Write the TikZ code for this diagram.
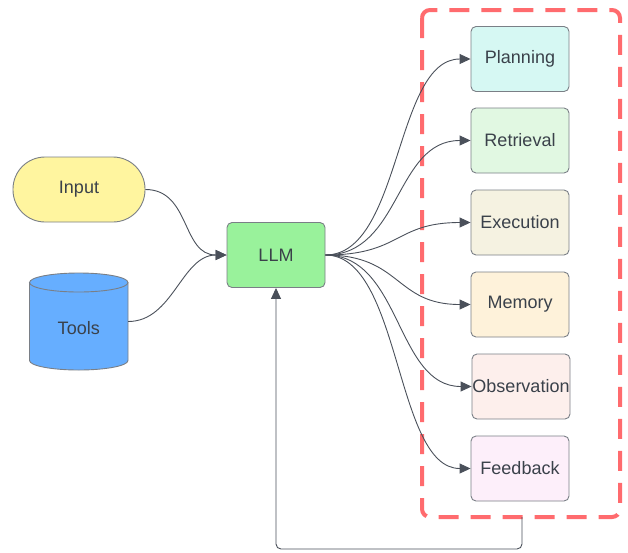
\documentclass[tikz,border=0pt]{standalone}
\usepackage{fontspec}
\setmainfont{Liberation Sans}
\usetikzlibrary{arrows.meta}
\definecolor{txt}{HTML}{3A414A}
\definecolor{edgecol}{HTML}{4A505A}
\definecolor{bord}{HTML}{7A7F86}
\definecolor{grpred}{HTML}{FF6B6E}
\definecolor{cInput}{HTML}{FFF59F}
\definecolor{cTools}{HTML}{66AEFF}
\definecolor{cLLM}{HTML}{99F29B}
\definecolor{cPlan}{HTML}{D6F8F3}
\definecolor{cRetr}{HTML}{E1F8E2}
\definecolor{cExec}{HTML}{F5F2E1}
\definecolor{cMem}{HTML}{FEF2DA}
\definecolor{cObs}{HTML}{FDEFEC}
\definecolor{cFeed}{HTML}{FDEFFA}
\tikzset{
  lbl/.style={font=\fontsize{18}{22}\selectfont, text=txt},
  box/.style={lbl, draw=bord, line width=0.9pt, rounded corners=5pt, minimum width=98pt, minimum height=65pt, inner sep=0pt},
  conn/.style={draw=edgecol, line width=0.9pt, -{Triangle[length=11pt,width=10pt]}},
}
\begin{document}
\begin{tikzpicture}[x=1pt,y=-1pt]
\useasboundingbox (0,0) rectangle (628,552);
% dashed group
\draw[draw=grpred, line width=4pt, dash pattern=on 20pt off 12pt, rounded corners=8pt] (422,10) rectangle (620,517);
\coordinate (grpbot) at (522,517);
% Input
\node[lbl, draw=bord, line width=0.9pt, fill=cInput, rounded corners=32pt, minimum width=132pt, minimum height=65pt, inner sep=0pt] (input) at (79,189.5) {Input};
% Tools cylinder
\fill[cTools] (29.5,282.5) -- (29.5,360.5) arc[start angle=180, end angle=0, x radius=49.25, y radius=9.5] -- (128,282.5) arc[start angle=0, end angle=-180, x radius=49.25, y radius=9.5] -- cycle;
\draw[bord, line width=0.9pt] (29.5,282.5) -- (29.5,360.5) arc[start angle=180, end angle=0, x radius=49.25, y radius=9.5] -- (128,282.5);
\draw[bord, line width=0.9pt] (78.75,282.5) ellipse[x radius=49.25, y radius=9.5];
\node[lbl, minimum width=98.5pt, minimum height=98pt, inner sep=0pt] (tools) at (78.75,321.5) {};
\node[lbl] (toolslbl) at (78.75,328) {Tools};
% LLM
\node[box, fill=cLLM] (llm) at (276,255) {LLM};
% right boxes
\node[box, fill=cPlan] (plan) at (520,59) {Planning};
\node[box, fill=cRetr] (retr) at (520,140.5) {Retrieval};
\node[box, fill=cExec] (exec) at (520,222.5) {Execution};
\node[box, fill=cMem] (mem) at (520,304.5) {Memory};
\node[box, fill=cObs] (obs) at (521,386.5) {Observation};
\node[box, fill=cFeed] (feed) at (520,468.5) {Feedback};
% connectors into LLM
\draw[conn] (input.east) .. controls +(45,0) and +(-45,0) .. (llm.west);
\draw[conn] (tools.east) .. controls +(45,0) and +(-45,0) .. (llm.west);
% LLM to boxes
\foreach \n in {plan,retr,exec,mem,obs,feed}{
  \draw[conn] (llm.east) .. controls +(76,0) and +(-76,0) .. (\n.west);
}
% feedback loop
\draw[conn, rounded corners=5pt] (grpbot) -- (522,549) -- (276,549) -- (llm.south);
\end{tikzpicture}
\end{document}
